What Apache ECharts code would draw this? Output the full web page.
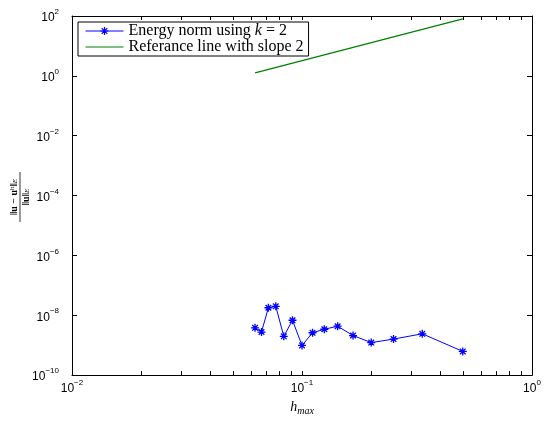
<!DOCTYPE html>
<html><head><meta charset="utf-8">
<script src="https://cdn.jsdelivr.net/npm/echarts@6/dist/echarts.min.js"></script>
<style>html,body{margin:0;padding:0;background:#fff}#c{width:544px;height:421px}</style>
</head><body><div id="c"></div>
<script>
// data
const hValues = [1/16, 1/15, 1/14, 1/13, 1/12, 1/11, 1/10, 1/9, 1/8, 1/7, 1/6, 1/5, 1/4, 1/3, 1/2];
const errValues = [3.8e-9, 2.75e-9, 1.78e-8, 1.99e-8, 1.97e-9, 6.8e-9, 9.8e-10, 2.6e-9, 3.4e-9, 4.3e-9, 2.1e-9, 1.22e-9, 1.6e-9, 2.4e-9, 6.2e-10];
const refH = [1/16, 1/2];
const refValues = [1.25, 80];
const xTickValues = [0.01,0.02,0.03,0.04,0.05,0.06,0.07,0.08,0.09,0.1,0.2,0.3,0.4,0.5,0.6,0.7,0.8,0.9,1];
const xLabelValues = [0.01, 0.1, 1];
const yLabelValues = [1e-10, 1e-8, 1e-6, 1e-4, 1e-2, 1, 1e2];
const seriesNames = ['Energy norm using k = 2', 'Referance line with slope 2'];

const chart = echarts.init(document.getElementById('c'));
const sans = 'Liberation Sans, Arial, sans-serif';
const serif = 'Liberation Serif, Times New Roman, serif';
const powRich = {
  b: {fontFamily: sans, fontSize: 12, color: '#000', lineHeight: 16, verticalAlign: 'bottom'},
  s: {fontFamily: sans, fontSize: 8, color: '#000', lineHeight: 16, verticalAlign: 'top'}
};
function powFmt(v) {
  const e = Math.round(Math.log10(v));
  return '{b|10}{s|' + (e < 0 ? '\u2212' + (-e) : e) + '}';
}
const asterisk = 'path://M0,-10L0,10M-10,0L10,0M-7,-7L7,7M-7,7L7,-7';
const axisCommon = {
  type: 'log', logBase: 10,
  axisLine: {show: true, onZero: false, lineStyle: {color: '#000', width: 1}},
  splitLine: {show: false},
  minorTick: {show: false}
};
const option = {
  animation: false,
  backgroundColor: '#fff',
  grid: {left: 72, right: 12, top: 16, bottom: 41, containLabel: false},
  xAxis: [
    Object.assign({}, axisCommon, {
      position: 'bottom', min: 0.01, max: 1,
      axisTick: {inside: true, length: 4, customValues: xTickValues, lineStyle: {color: '#000'}},
      axisLabel: {customValues: xLabelValues, formatter: powFmt, rich: powRich, margin: 4},
      name: '{h|h}{s|max}', nameLocation: 'middle', nameGap: 24,
      nameTextStyle: {rich: {
        h: {fontFamily: serif, fontStyle: 'italic', fontSize: 14, color: '#000', lineHeight: 16, verticalAlign: 'top'},
        s: {fontFamily: serif, fontStyle: 'italic', fontSize: 10, color: '#000', lineHeight: 16, verticalAlign: 'bottom'}
      }}
    }),
    Object.assign({}, axisCommon, {
      position: 'top', min: 0.01, max: 1,
      axisTick: {inside: true, length: 4, customValues: xTickValues, lineStyle: {color: '#000'}},
      axisLabel: {show: false}
    })
  ],
  yAxis: [
    Object.assign({}, axisCommon, {
      position: 'left', min: 1e-10, max: 1e2,
      axisTick: {inside: true, length: 5, customValues: yLabelValues, lineStyle: {color: '#000'}},
      axisLabel: {customValues: yLabelValues, formatter: powFmt, rich: powRich, margin: 13}
    }),
    Object.assign({}, axisCommon, {
      position: 'right', min: 1e-10, max: 1e2,
      axisTick: {inside: true, length: 5, customValues: yLabelValues, lineStyle: {color: '#000'}},
      axisLabel: {show: false}
    })
  ],
  legend: {
    left: 78, top: 22, orient: 'vertical',
    backgroundColor: '#fff', borderColor: '#000', borderWidth: 1, borderRadius: 0,
    padding: [1, 5, 1, 7], itemGap: 0, itemWidth: 38, itemHeight: 10,
    lineStyle: {width: 1},
    itemStyle: {borderWidth: 1.2},
    data: [
      {name: seriesNames[0]},
      {name: seriesNames[1], icon: 'path://M0,0L38,0L38,1.2L0,1.2Z'}
    ],
    formatter: function (n) {
      if (n === seriesNames[0]) return '{t|Energy norm using }{i|k}{t| = 2}';
      return '{t|' + n + '}';
    },
    textStyle: {rich: {
      t: {fontFamily: serif, fontSize: 16, color: '#000', lineHeight: 16},
      i: {fontFamily: serif, fontSize: 16, fontStyle: 'italic', color: '#000', lineHeight: 16}
    }}
  },
  graphic: [{
    type: 'group', x: 20, y: 197, rotation: Math.PI / 2,
    children: [
      {type: 'text', x: 0, y: -6, style: {
        text: '{n|\u2016u \u2212 u}{p|h}{n|\u2016}{q|E}',
        align: 'center', verticalAlign: 'middle',
        rich: {
          n: {fontFamily: serif, fontSize: 10, fontWeight: 'bold', fill: '#000'},
          p: {fontFamily: serif, fontSize: 7, fill: '#000', verticalAlign: 'top'},
          q: {fontFamily: serif, fontSize: 7, fontStyle: 'italic', fill: '#000', verticalAlign: 'bottom'}
        }
      }},
      {type: 'line', shape: {x1: -25, y1: 0, x2: 25, y2: 0}, style: {stroke: '#000', lineWidth: 0.8}},
      {type: 'text', x: 0, y: 6, style: {
        text: '{n|\u2016u\u2016}{q|E}',
        align: 'center', verticalAlign: 'middle',
        rich: {
          n: {fontFamily: serif, fontSize: 10, fontWeight: 'bold', fill: '#000'},
          q: {fontFamily: serif, fontSize: 7, fontStyle: 'italic', fill: '#000', verticalAlign: 'bottom'}
        }
      }}
    ]
  }],
  series: [
    {
      name: seriesNames[0], type: 'line', xAxisIndex: 0, yAxisIndex: 0,
      data: hValues.map((h, i) => [h, errValues[i]]),
      color: '#0000ff',
      lineStyle: {color: '#0000ff', width: 1},
      symbol: asterisk, symbolSize: 8, showAllSymbol: true,
      itemStyle: {color: '#0000ff', borderColor: '#0000ff', borderWidth: 1.3},
      emphasis: {disabled: true}
    },
    {
      name: seriesNames[1], type: 'line', xAxisIndex: 0, yAxisIndex: 0,
      data: refH.map((h, i) => [h, refValues[i]]),
      color: '#008000',
      lineStyle: {color: '#008000', width: 1.2},
      symbol: 'none',
      emphasis: {disabled: true}
    }
  ]
};
chart.setOption(option);
</script>
</body></html>
